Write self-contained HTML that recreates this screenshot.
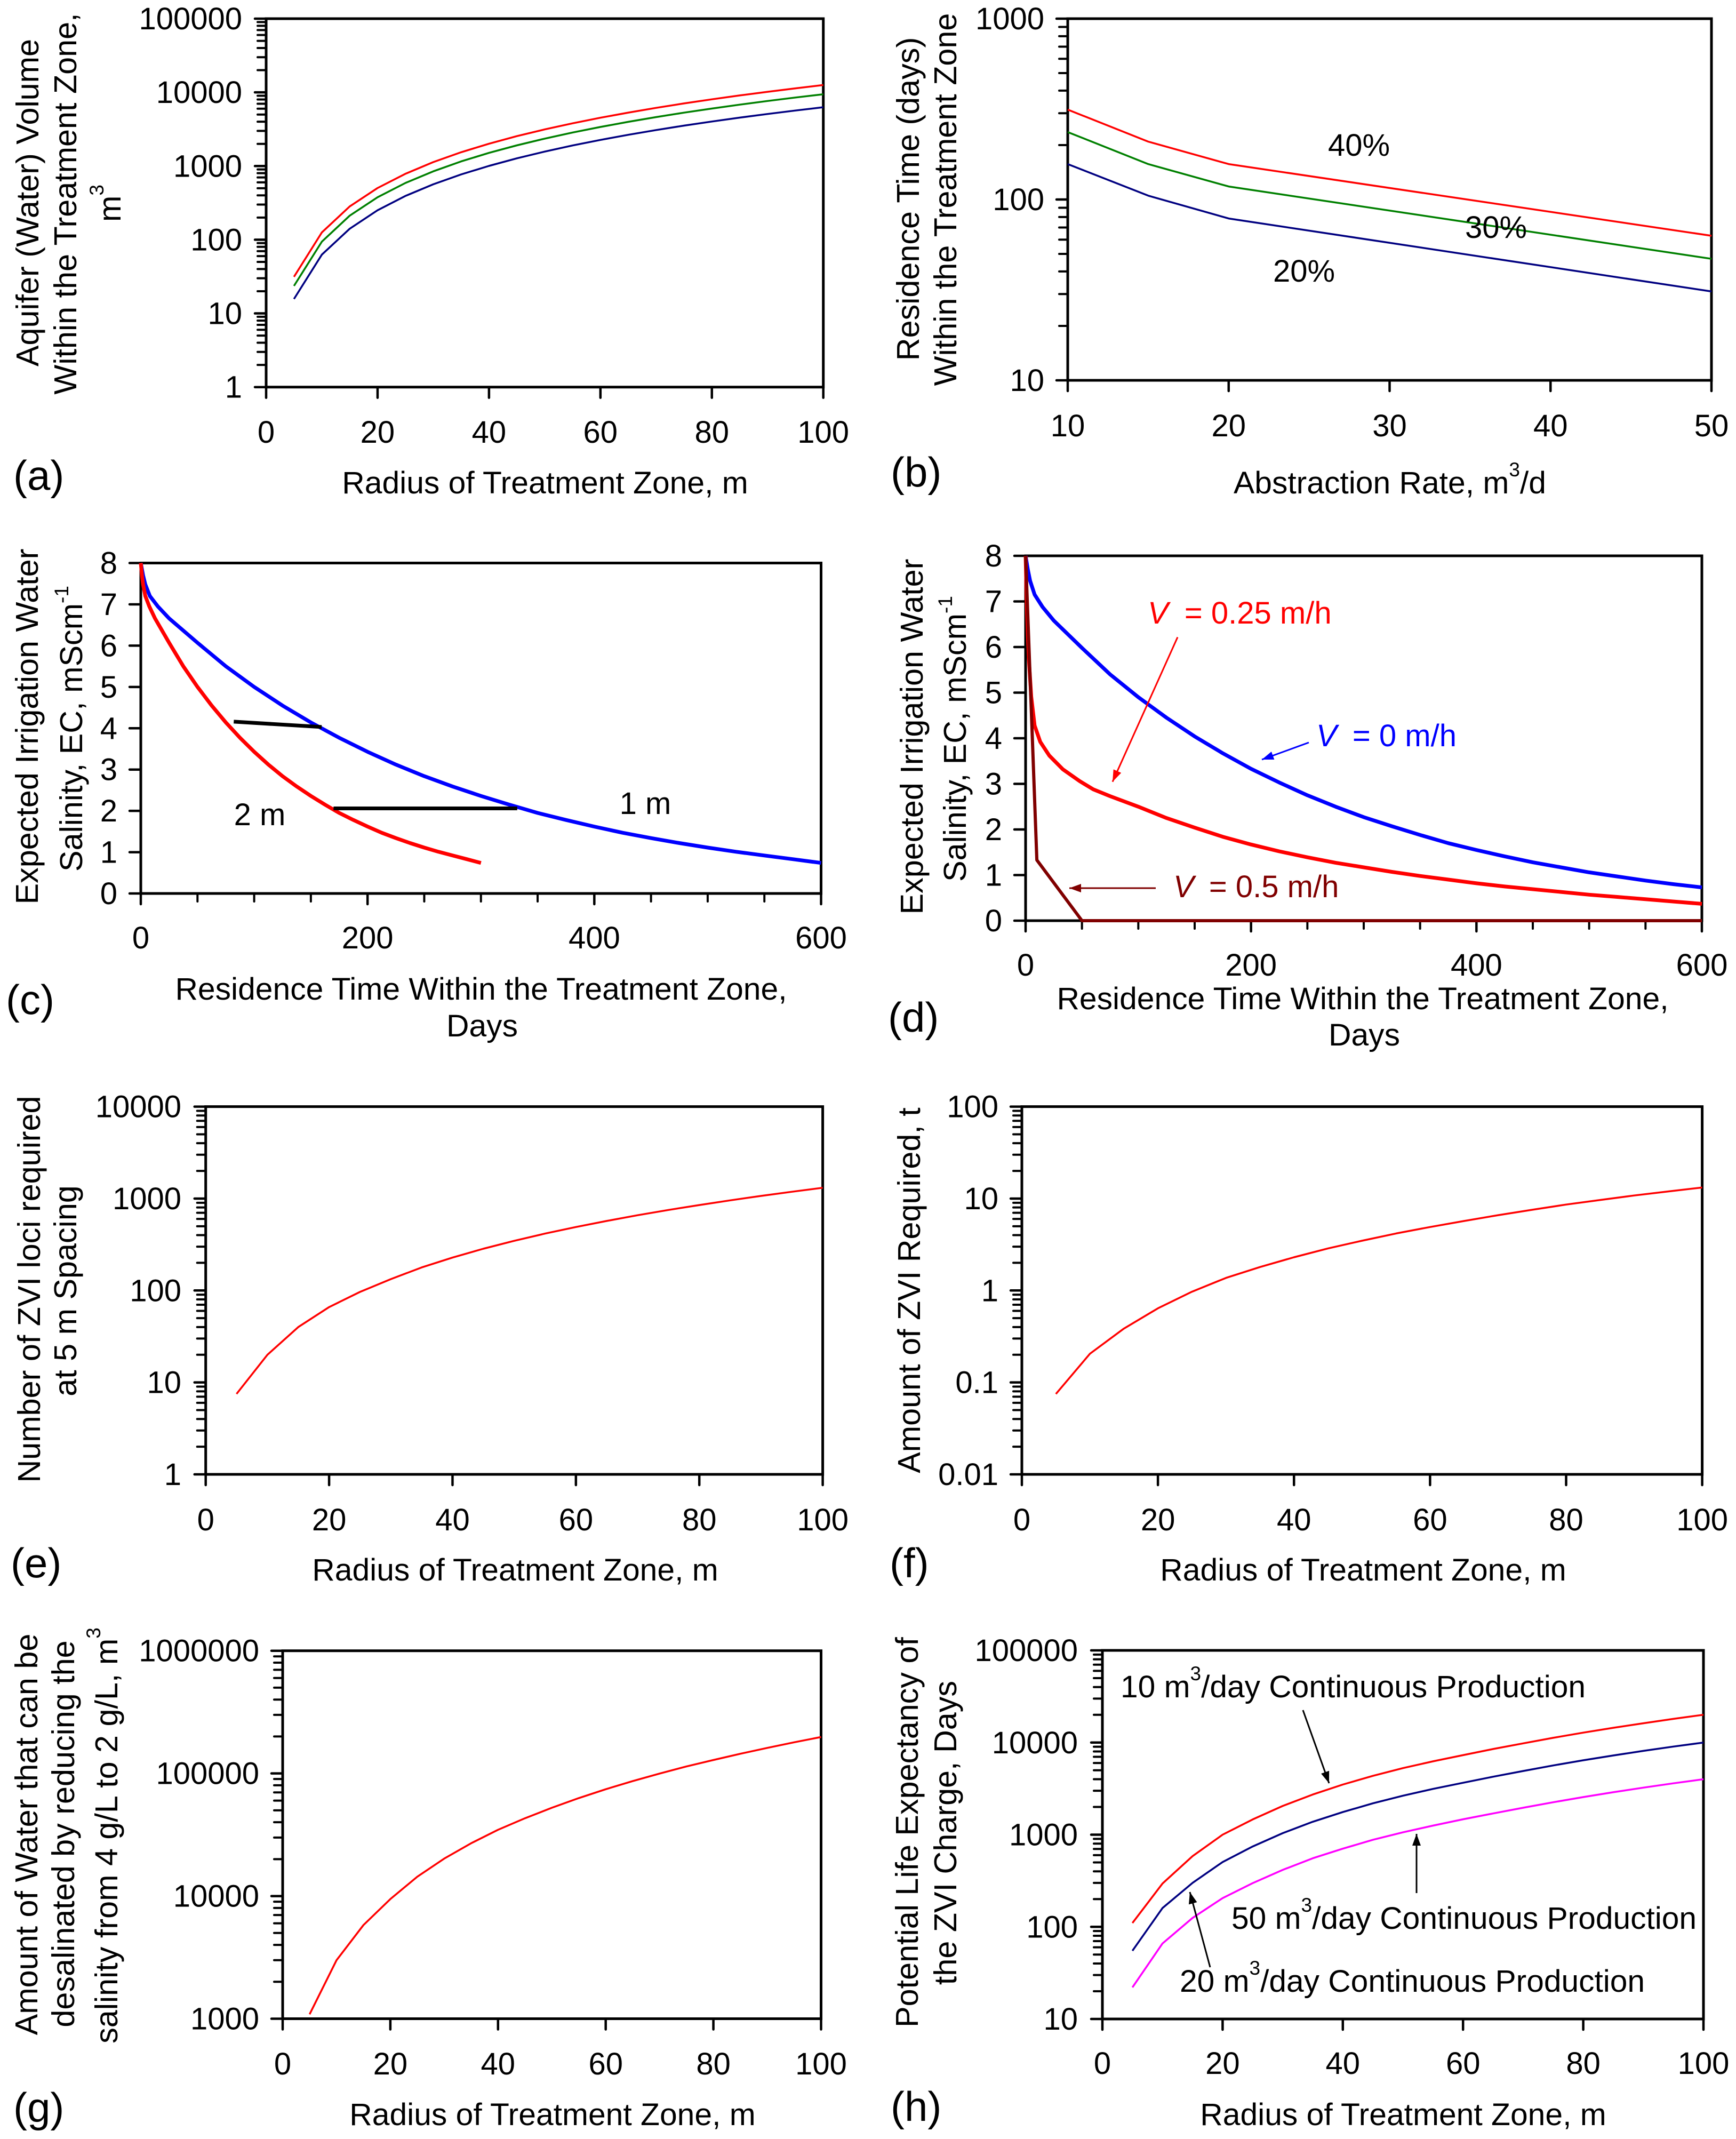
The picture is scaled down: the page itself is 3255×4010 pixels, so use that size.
<!DOCTYPE html>
<html lang="en">
<head>
<meta charset="utf-8">
<title>Treatment zone charts</title>
<style>
html,body{margin:0;padding:0;background:#fff;}
svg{display:block;}
text{font-family:"Liberation Sans",Arial,sans-serif;font-size:58px;fill:#000;}
.panel-tag{font-size:78px;}
.xt{font-size:58.8px;}
.yt{font-size:59.3px;}
.sup{font-size:37px;}
</style>
</head>
<body>
<svg id="figure" xmlns="http://www.w3.org/2000/svg" width="3255" height="4010" viewBox="0 0 3255 4010">
<defs>
<marker id="arrow-black" markerUnits="userSpaceOnUse" markerWidth="24" markerHeight="18" refX="22" refY="8" orient="auto"><path d="M0 0L22 8L0 16Z" fill="#000"/></marker>
<marker id="arrow-red" markerUnits="userSpaceOnUse" markerWidth="24" markerHeight="18" refX="22" refY="8" orient="auto"><path d="M0 0L22 8L0 16Z" fill="#f00"/></marker>
<marker id="arrow-blue" markerUnits="userSpaceOnUse" markerWidth="24" markerHeight="18" refX="22" refY="8" orient="auto"><path d="M0 0L22 8L0 16Z" fill="#00f"/></marker>
<marker id="arrow-dark" markerUnits="userSpaceOnUse" markerWidth="24" markerHeight="18" refX="22" refY="8" orient="auto"><path d="M0 0L22 8L0 16Z" fill="#800000"/></marker>
</defs>
<rect x="0" y="0" width="3255" height="4010" fill="#fff"/>

<g id="panel-a">
<text class="panel-tag" x="25" y="918">(a)</text>
<text class="xt" x="1022" y="925" text-anchor="middle">Radius of Treatment Zone, m</text>
<text class="yt" transform="translate(72,380) rotate(-90)" text-anchor="middle">Aquifer (Water) Volume</text>
<text class="yt" transform="translate(143,382) rotate(-90)" text-anchor="middle">Within the Treatment Zone,</text>
<text class="yt" transform="translate(226,381) rotate(-90)" text-anchor="middle">m<tspan class="sup" dy="-32">3</tspan></text>
</g>

<g id="panel-b">
<text class="panel-tag" x="1670" y="912">(b)</text>
<text class="xt" x="2606" y="925" text-anchor="middle">Abstraction Rate, m<tspan class="sup" dy="-32">3</tspan><tspan dy="32">/d</tspan></text>
<text class="yt" transform="translate(1723,373) rotate(-90)" text-anchor="middle">Residence Time (days)</text>
<text class="yt" transform="translate(1793,374) rotate(-90)" text-anchor="middle">Within the Treatment Zone</text>
</g>

<g id="panel-c">
<text class="panel-tag" x="11" y="1901">(c)</text>
<text class="xt" x="902" y="1874" text-anchor="middle">Residence Time Within the Treatment Zone,</text>
<text class="xt" x="904" y="1943" text-anchor="middle">Days</text>
<text class="yt" transform="translate(71,1362) rotate(-90)" text-anchor="middle">Expected Irrigation Water</text>
<text class="yt" transform="translate(154,1366) rotate(-90)" text-anchor="middle">Salinity, EC, mScm<tspan class="sup" dy="-26">-1</tspan></text>
</g>

<g id="panel-d">
<text class="panel-tag" x="1665" y="1934">(d)</text>
<text class="xt" x="2555" y="1892" text-anchor="middle">Residence Time Within the Treatment Zone,</text>
<text class="xt" x="2558" y="1960" text-anchor="middle">Days</text>
<text class="yt" transform="translate(1730,1381) rotate(-90)" text-anchor="middle">Expected Irrigation Water</text>
<text class="yt" transform="translate(1811,1385) rotate(-90)" text-anchor="middle">Salinity, EC, mScm<tspan class="sup" dy="-26">-1</tspan></text>
</g>

<g id="panel-e">
<text class="panel-tag" x="20" y="2957">(e)</text>
<text class="xt" x="966" y="2963" text-anchor="middle">Radius of Treatment Zone, m</text>
<text class="yt" transform="translate(75,2417) rotate(-90)" text-anchor="middle">Number of ZVI loci required</text>
<text class="yt" transform="translate(143,2420) rotate(-90)" text-anchor="middle">at 5 m Spacing</text>
</g>

<g id="panel-f">
<text class="panel-tag" x="1668" y="2957">(f)</text>
<text class="xt" x="2556" y="2963" text-anchor="middle">Radius of Treatment Zone, m</text>
<text class="yt" transform="translate(1725,2419) rotate(-90)" text-anchor="middle">Amount of ZVI Required, t</text>
</g>

<g id="panel-g">
<text class="panel-tag" x="25" y="3978">(g)</text>
<text class="xt" x="1036" y="3984" text-anchor="middle">Radius of Treatment Zone, m</text>
<text class="yt" transform="translate(70,3439) rotate(-90)" text-anchor="middle">Amount of Water that can be</text>
<text class="yt" transform="translate(139,3438) rotate(-90)" text-anchor="middle">desalinated by reducing the</text>
<text class="yt" transform="translate(220,3441) rotate(-90)" text-anchor="middle">salinity from 4 g/L to 2 g/L, m<tspan class="sup" dy="-32">3</tspan></text>
</g>

<g id="panel-h">
<text class="panel-tag" x="1670" y="3976">(h)</text>
<text class="xt" x="2631" y="3984" text-anchor="middle">Radius of Treatment Zone, m</text>
<text class="yt" transform="translate(1721,3435) rotate(-90)" text-anchor="middle">Potential Life Expectancy of</text>
<text class="yt" transform="translate(1793,3436) rotate(-90)" text-anchor="middle">the ZVI Charge, Days</text>
</g>
</svg>

<script>
// ---- Shared categories
const radiusM = [5,10,15,20,25,30,35,40,45,50,55,60,65,70,75,80,85,90,95,100];
const radiusTicks = [0,20,40,60,80,100];

// ---- Panel (a)
const aYTicks = [1,10,100,1000,10000,100000];
const aVolume40 = [31.4,125.7,283,503,785,1131,1539,2011,2545,3142,3801,4524,5309,6158,7069,8042,9079,10179,11341,12566];
const aVolume30 = [23.6,94.2,212,377,589,848,1155,1508,1909,2356,2851,3393,3982,4618,5301,6032,6809,7634,8506,9425];
const aVolume20 = [15.7,62.8,141,251,393,565,770,1005,1272,1571,1901,2262,2655,3079,3534,4021,4540,5089,5671,6283];

// ---- Panel (b)
const bRate = [10,15,20,50];
const bXTicks = [10,20,30,40,50];
const bYTicks = [10,100,1000];
const bTime40 = [314,209,157,63];
const bTime30 = [236,157,118,47];
const bTime20 = [157,105,78.5,31];

// ---- Panel (c)
const cXTicks = [0,200,400,600];
const cXMinor = [50,100,150,250,300,350,450,500,550];
const cYTicks = [0,1,2,3,4,5,6,7,8];
const c1mDays = [0,2,4,8,15,25,50,75,100,125,150,175,200,225,250,275,300,325,350,375,400,425,450,475,500,525,550,575,600];
const c1mEC = [8,7.7,7.48,7.2,6.95,6.66,6.07,5.5,5.0,4.55,4.14,3.77,3.43,3.12,2.84,2.59,2.36,2.15,1.95,1.78,1.62,1.47,1.34,1.22,1.11,1.01,0.92,0.83,0.74];
const c2mDays = [0,1,2,4,7.5,12.5,25,37.5,50,62.5,75,87.5,100,112.5,125,137.5,150,162.5,175,187.5,200,212.5,225,237.5,250,262.5,275,287.5,300];
const c2mEC = [8,7.7,7.48,7.2,6.95,6.66,6.07,5.5,5.0,4.55,4.14,3.77,3.43,3.12,2.84,2.59,2.36,2.15,1.95,1.78,1.62,1.47,1.34,1.22,1.11,1.01,0.92,0.83,0.74];
const cLink4Days = [82,159.5];
const cLink4EC = [4.16,4.03];
const cLink2Days = [170,332];
const cLink2EC = [2.06,2.06];

// ---- Panel (d)
const dV0Days = [0,2,4,8,15,25,50,75,100,125,150,175,200,225,250,275,300,325,350,375,400,425,450,475,500,525,550,575,600];
const dV0EC = [8,7.7,7.45,7.15,6.88,6.58,5.98,5.4,4.9,4.45,4.04,3.67,3.33,3.03,2.75,2.5,2.27,2.07,1.88,1.7,1.55,1.41,1.28,1.17,1.06,0.97,0.88,0.8,0.73];
const dV25Days = [0,1,2,3,5,8,13,21,33,48,60,75,100,125,150,175,200,225,250,275,300,325,350,375,400,425,450,475,500,525,550,575,600];
const dV25EC = [8,7,6.25,5.7,4.91,4.28,3.92,3.62,3.32,3.06,2.88,2.73,2.5,2.25,2.04,1.84,1.67,1.52,1.39,1.27,1.17,1.07,0.98,0.9,0.82,0.75,0.69,0.63,0.57,0.52,0.47,0.42,0.37];
const dV5Days = [0,10,50,600];
const dV5EC = [8,1.33,0,0];

// ---- Panel (e)
const eYTicks = [1,10,100,1000,10000];
const eLoci = [7.5,20,40,66,96.5,133,178,228,284.5,347,416,490,571,659,752,850,956,1068,1185,1310];

// ---- Panel (f)
const fYTicks = [0.01,0.1,1,10,100];
const fTonnes = [0.075,0.205,0.385,0.64,0.97,1.37,1.8,2.3,2.87,3.48,4.17,4.9,5.7,6.6,7.55,8.6,9.65,10.8,11.95,13.2];

// ---- Panel (g)
const gYTicks = [1000,10000,100000,1000000];
const gWater = [1087,3000,5800,9450,14375,20200,26950,34700,43095,52500,62900,74300,86550,99700,113900,128600,144550,161400,179300,198000];

// ---- Panel (h)
const hYTicks = [10,100,1000,10000,100000];
const hLife10 = [110,295,585,1000,1465,2050,2730,3500,4350,5280,6250,7300,8500,9800,11250,12800,14450,16200,18050,20000];
const hLife20 = [55,160,300,505,745,1040,1380,1760,2190,2650,3140,3660,4260,4910,5640,6420,7240,8120,9040,10000];
const hLife50 = [22,66,125,205,298,415,555,705,880,1060,1255,1470,1700,1960,2250,2560,2890,3240,3610,4000];

const NS = 'http://www.w3.org/2000/svg';

function linearScale(d0, d1, r0, r1) {
  return function (v) { return r0 + (v - d0) / (d1 - d0) * (r1 - r0); };
}
function logScale(d0, d1, r0, r1) {
  const a = Math.log10(d0), b = Math.log10(d1);
  return function (v) { return r0 + (Math.log10(v) - a) / (b - a) * (r1 - r0); };
}
function logMinors(ticks) {
  const out = [];
  for (let i = 0; i < ticks.length - 1; i++) {
    for (let k = 2; k < 10; k++) { out.push(ticks[i] * k); }
  }
  return out;
}
function tickLine(parent, x1, y1, x2, y2, width) {
  const el = document.createElementNS(NS, 'line');
  el.setAttribute('x1', x1);
  el.setAttribute('y1', y1);
  el.setAttribute('x2', x2);
  el.setAttribute('y2', y2);
  el.setAttribute('stroke', '#000');
  el.setAttribute('stroke-width', width);
  el.setAttribute('stroke-linecap', 'round');
  parent.appendChild(el);
  return el;
}
function tickText(parent, x, y, anchor, str) {
  const el = document.createElementNS(NS, 'text');
  el.setAttribute('x', x);
  el.setAttribute('y', y);
  el.setAttribute('text-anchor', anchor);
  el.textContent = str;
  parent.appendChild(el);
  return el;
}
function drawAxes(panel, box, xScale, yScale, xTicks, xMinor, yTicks, yMinor) {
  const g = document.getElementById(panel);
  yMinor.forEach(function (v) {
    const el = tickLine(g, box.l - 16, yScale(v), box.l, yScale(v), 4);
    
    
  });
  yTicks.forEach(function (v) {
    const el = tickLine(g, box.l - 21, yScale(v), box.l, yScale(v), 4.5);
    
    
    const lab = tickText(g, box.yLab, yScale(v) + 20, 'end', String(v));
    
    
  });
  xMinor.forEach(function (v) {
    const el = tickLine(g, xScale(v), box.b, xScale(v), box.b + 15, 4);
    
    
  });
  xTicks.forEach(function (v) {
    const el = tickLine(g, xScale(v), box.b, xScale(v), box.b + 20, 4.5);
    
    
    const lab = tickText(g, xScale(v), box.xLab, 'middle', String(v));
    
    
  });
  const frame = document.createElementNS(NS, 'rect');
  frame.setAttribute('x', box.l);
  frame.setAttribute('y', box.t);
  frame.setAttribute('width', box.r - box.l);
  frame.setAttribute('height', box.b - box.t);
  frame.setAttribute('fill', 'none');
  frame.setAttribute('stroke', '#000');
  frame.setAttribute('stroke-width', 5);
  
  
  g.appendChild(frame);
  return g;
}
function drawSeries(g, xs, ys, xScale, yScale, color, width) {
  const el = document.createElementNS(NS, 'polyline');
  const pts = xs.map(function (x, i) { return xScale(x).toFixed(1) + ',' + yScale(ys[i]).toFixed(1); });
  el.setAttribute('points', pts.join(' '));
  el.setAttribute('fill', 'none');
  el.setAttribute('stroke', color);
  el.setAttribute('stroke-width', width);
  el.setAttribute('stroke-linejoin', 'round');
  g.appendChild(el);
  return el;
}
function addAnnotationText(panel, x, y, anchor, color, parts) {
  const g = document.getElementById(panel);
  const el = document.createElementNS(NS, 'text');
  el.setAttribute('x', x);
  el.setAttribute('y', y);
  el.setAttribute('text-anchor', anchor);
  el.style.fill = color;
  parts.forEach(function (p) {
    const t = document.createElementNS(NS, 'tspan');
    t.textContent = p.s;
    if (p.italic) { t.setAttribute('font-style', 'italic'); }
    if (p.sup) { t.setAttribute('class', 'sup'); }
    if (p.dy) { t.setAttribute('dy', p.dy); }
    if (p.dx) { t.setAttribute('dx', p.dx); }
    el.appendChild(t);
  });
  g.appendChild(el);
  return el;
}
function addArrow(panel, x1, y1, x2, y2, color, marker) {
  const g = document.getElementById(panel);
  const el = document.createElementNS(NS, 'line');
  el.setAttribute('x1', x1);
  el.setAttribute('y1', y1);
  el.setAttribute('x2', x2);
  el.setAttribute('y2', y2);
  el.setAttribute('stroke', color);
  el.setAttribute('stroke-width', 3);
  el.setAttribute('marker-end', 'url(#' + marker + ')');
  g.appendChild(el);
  return el;
}

// ---- Build (a)
(function () {
  const box = { l: 499, r: 1543.7, t: 35, b: 725.7, xLab: 830, yLab: 454 };
  const xs = linearScale(0, 100, box.l, box.r);
  const ys = logScale(1, 100000, box.b, box.t);
  const g = drawAxes('panel-a', box, xs, ys, radiusTicks, [], aYTicks, logMinors(aYTicks));
  const s1 = drawSeries(g, radiusM, aVolume40, xs, ys, '#ff0000', 3.5);
  
  
  const s2 = drawSeries(g, radiusM, aVolume30, xs, ys, '#008000', 3.5);
  
  
  const s3 = drawSeries(g, radiusM, aVolume20, xs, ys, '#000080', 3.5);
  
  
})();

// ---- Build (b)
(function () {
  const box = { l: 2002, r: 3209, t: 35, b: 713, xLab: 818, yLab: 1958 };
  const xs = linearScale(10, 50, box.l, box.r);
  const ys = logScale(10, 1000, box.b, box.t);
  const g = drawAxes('panel-b', box, xs, ys, bXTicks, [], bYTicks, logMinors(bYTicks));
  const s1 = drawSeries(g, bRate, bTime40, xs, ys, '#ff0000', 3.5);
  
  
  const s2 = drawSeries(g, bRate, bTime30, xs, ys, '#008000', 3.5);
  
  
  const s3 = drawSeries(g, bRate, bTime20, xs, ys, '#000080', 3.5);
  
  
  const t1 = addAnnotationText('panel-b', 2548, 292, 'middle', '#000', [{ s: '40%' }]);
  
  
  const t2 = addAnnotationText('panel-b', 2805, 446, 'middle', '#000', [{ s: '30%' }]);
  
  
  const t3 = addAnnotationText('panel-b', 2445, 528, 'middle', '#000', [{ s: '20%' }]);
  
  
})();

// ---- Build (c)
(function () {
  const box = { l: 264, r: 1539.5, t: 1055.5, b: 1675, xLab: 1778, yLab: 220 };
  const xs = linearScale(0, 600, box.l, box.r);
  const ys = linearScale(0, 8, box.b, box.t);
  const g = drawAxes('panel-c', box, xs, ys, cXTicks, cXMinor, cYTicks, []);
  const s1 = drawSeries(g, c1mDays, c1mEC, xs, ys, '#0000ff', 7);
  
  
  const s2 = drawSeries(g, c2mDays, c2mEC, xs, ys, '#ff0000', 7);
  
  
  const l1 = drawSeries(g, cLink4Days, cLink4EC, xs, ys, '#000', 7);
  
  
  const l2 = drawSeries(g, cLink2Days, cLink2EC, xs, ys, '#000', 7);
  
  
  const t1 = addAnnotationText('panel-c', 1210, 1526, 'middle', '#000', [{ s: '1 m' }]);
  
  
  const t2 = addAnnotationText('panel-c', 487, 1547, 'middle', '#000', [{ s: '2 m' }]);
  
  
})();

// ---- Build (d)
(function () {
  const box = { l: 1923, r: 3191, t: 1042, b: 1726, xLab: 1829, yLab: 1879 };
  const xs = linearScale(0, 600, box.l, box.r);
  const ys = linearScale(0, 8, box.b, box.t);
  const g = drawAxes('panel-d', box, xs, ys, cXTicks, cXMinor, cYTicks, []);
  const s1 = drawSeries(g, dV0Days, dV0EC, xs, ys, '#0000ff', 7);
  
  
  const s2 = drawSeries(g, dV25Days, dV25EC, xs, ys, '#ff0000', 7);
  
  
  const s3 = drawSeries(g, dV5Days, dV5EC, xs, ys, '#800000', 6);
  
  
  const t1 = addAnnotationText('panel-d', 2152, 1169, 'start', '#ff0000', [{ s: 'V', italic: true }, { s: '\u00a0 = 0.25 m/h', dx: -2 }]);
  
  
  const t2 = addAnnotationText('panel-d', 2468, 1399, 'start', '#0000ff', [{ s: 'V', italic: true }, { s: '\u00a0 = 0 m/h', dx: -3 }]);
  
  
  const t3 = addAnnotationText('panel-d', 2200, 1682, 'start', '#800000', [{ s: 'V', italic: true }, { s: '\u00a0 = 0.5 m/h', dx: -4 }]);
  
  
  const a1 = addArrow('panel-d', 2208, 1194.5, 2086, 1465.6, '#ff0000', 'arrow-red');
  
  
  const a2 = addArrow('panel-d', 2454, 1392, 2366, 1424, '#0000ff', 'arrow-blue');
  
  
  const a3 = addArrow('panel-d', 2167, 1665, 2005, 1665, '#800000', 'arrow-dark');
  
  
})();

// ---- Build (e)
(function () {
  const box = { l: 385.7, r: 1542.6, t: 2074.6, b: 2764, xLab: 2869, yLab: 340 };
  const xs = linearScale(0, 100, box.l, box.r);
  const ys = logScale(1, 10000, box.b, box.t);
  const g = drawAxes('panel-e', box, xs, ys, radiusTicks, [], eYTicks, logMinors(eYTicks));
  const s1 = drawSeries(g, radiusM, eLoci, xs, ys, '#ff0000', 3.5);
  
  
})();

// ---- Build (f)
(function () {
  const box = { l: 1916, r: 3191.6, t: 2074.6, b: 2764, xLab: 2869, yLab: 1872 };
  const xs = linearScale(0, 100, box.l, box.r);
  const ys = logScale(0.01, 100, box.b, box.t);
  const g = drawAxes('panel-f', box, xs, ys, radiusTicks, [], fYTicks, logMinors(fYTicks));
  const s1 = drawSeries(g, radiusM, fTonnes, xs, ys, '#ff0000', 3.5);
  
  
})();

// ---- Build (g)
(function () {
  const box = { l: 530, r: 1539.5, t: 3094.7, b: 3784.5, xLab: 3889, yLab: 486 };
  const xs = linearScale(0, 100, box.l, box.r);
  const ys = logScale(1000, 1000000, box.b, box.t);
  const g = drawAxes('panel-g', box, xs, ys, radiusTicks, [], gYTicks, logMinors(gYTicks));
  const s1 = drawSeries(g, radiusM, gWater, xs, ys, '#ff0000', 3.5);
  
  
})();

// ---- Build (h)
(function () {
  const box = { l: 2067, r: 3194, t: 3094, b: 3785, xLab: 3888, yLab: 2021 };
  const xs = linearScale(0, 100, box.l, box.r);
  const ys = logScale(10, 100000, box.b, box.t);
  const g = drawAxes('panel-h', box, xs, ys, radiusTicks, [], hYTicks, logMinors(hYTicks));
  const s1 = drawSeries(g, radiusM, hLife10, xs, ys, '#ff0000', 3.5);
  
  
  const s2 = drawSeries(g, radiusM, hLife20, xs, ys, '#000080', 3.5);
  
  
  const s3 = drawSeries(g, radiusM, hLife50, xs, ys, '#ff00ff', 3.5);
  
  
  const t1 = addAnnotationText('panel-h', 2101, 3182, 'start', '#000', [{ s: '10 m' }, { s: '3', sup: true, dy: -32 }, { s: '/day Continuous Production', dy: 32 }]);
  t1.style.fontSize = '58.7px';
  
  
  const t2 = addAnnotationText('panel-h', 2309, 3616, 'start', '#000', [{ s: '50 m' }, { s: '3', sup: true, dy: -32 }, { s: '/day Continuous Production', dy: 32 }]);
  t2.style.fontSize = '58.7px';
  
  
  const t3 = addAnnotationText('panel-h', 2212, 3734, 'start', '#000', [{ s: '20 m' }, { s: '3', sup: true, dy: -32 }, { s: '/day Continuous Production', dy: 32 }]);
  t3.style.fontSize = '58.7px';
  
  
  const a1 = addArrow('panel-h', 2443, 3206, 2492, 3343, '#000', 'arrow-black');
  
  
  const a2 = addArrow('panel-h', 2656, 3549, 2656, 3438, '#000', 'arrow-black');
  
  
  const a3 = addArrow('panel-h', 2269, 3688, 2231, 3547, '#000', 'arrow-black');
  
  
})();
</script>
</body>
</html>
